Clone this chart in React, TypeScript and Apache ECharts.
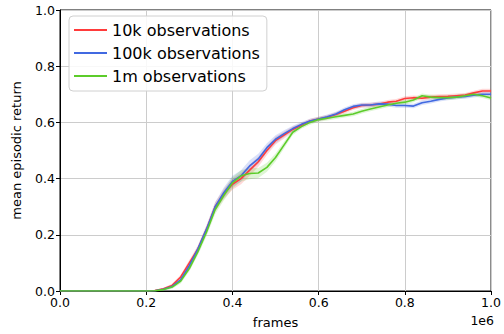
import React, { useEffect, useRef } from "react";
import * as echarts from "echarts";

const FRAMES = [
  0, 20000, 40000, 60000, 80000, 100000, 120000, 140000, 160000, 180000,
  200000, 220000, 240000, 260000, 280000, 300000, 320000, 340000, 360000, 380000,
  400000, 420000, 440000, 460000, 480000, 500000, 520000, 540000, 560000, 580000,
  600000, 620000, 640000, 660000, 680000, 700000, 720000, 740000, 760000, 780000,
  800000, 820000, 840000, 860000, 880000, 900000, 920000, 940000, 960000, 980000,
  1000000,
];

const RED_10K = [
  0, 0, 0, 0, 0, 0, 0, 0, 0, 0,
  0, 0.002, 0.008, 0.02, 0.05, 0.1, 0.15, 0.22, 0.3, 0.345,
  0.38, 0.4, 0.43, 0.46, 0.5, 0.535, 0.555, 0.575, 0.59, 0.605,
  0.612, 0.618, 0.628, 0.64, 0.652, 0.66, 0.662, 0.665, 0.672, 0.675,
  0.685, 0.688, 0.686, 0.69, 0.692, 0.693, 0.695, 0.697, 0.705, 0.712,
  0.712,
];

const BLUE_100K = [
  0, 0, 0, 0, 0, 0, 0, 0, 0, 0,
  0, 0.001, 0.006, 0.016, 0.04, 0.09, 0.15, 0.22, 0.3, 0.35,
  0.39, 0.41, 0.445, 0.47, 0.51, 0.54, 0.56, 0.578, 0.593, 0.605,
  0.612, 0.62, 0.63, 0.645, 0.657, 0.662, 0.662, 0.666, 0.665, 0.66,
  0.66, 0.658, 0.67, 0.675, 0.682, 0.687, 0.69, 0.692, 0.697, 0.7,
  0.7,
];

const GREEN_1M = [
  0, 0, 0, 0, 0, 0, 0, 0, 0, 0,
  0, 0.001, 0.005, 0.014, 0.035, 0.08, 0.14, 0.21, 0.29, 0.34,
  0.385, 0.41, 0.418, 0.42, 0.44, 0.475, 0.52, 0.565, 0.585, 0.6,
  0.61, 0.615, 0.62, 0.625, 0.63, 0.64, 0.648, 0.655, 0.662, 0.668,
  0.672, 0.68, 0.695, 0.69, 0.688, 0.688, 0.69, 0.695, 0.7, 0.695,
  0.687,
];

// half-width of the shaded band around each mean curve
const SPREAD = [
  0, 0, 0, 0, 0, 0, 0, 0, 0, 0,
  0, 0.002, 0.004, 0.006, 0.008, 0.01, 0.012, 0.014, 0.016, 0.018,
  0.02, 0.02, 0.02, 0.018, 0.016, 0.014, 0.012, 0.01, 0.008, 0.008,
  0.008, 0.008, 0.008, 0.008, 0.008, 0.008, 0.008, 0.008, 0.008, 0.008,
  0.008, 0.008, 0.008, 0.008, 0.008, 0.008, 0.008, 0.008, 0.008, 0.008,
  0.008,
];

const SERIES = [
  { name: "10k observations", values: RED_10K, color: "#ff3b3b", band: "rgba(255,59,59,0.2)" },
  { name: "100k observations", values: BLUE_100K, color: "#4169e1", band: "rgba(65,105,225,0.2)" },
  { name: "1m observations", values: GREEN_1M, color: "#5ccc2a", band: "rgba(92,204,42,0.2)" },
];

const X_TICK_LABELS = ["0.0", "0.2", "0.4", "0.6", "0.8", "1.0"];
const Y_TICK_LABELS = ["0.0", "0.2", "0.4", "0.6", "0.8", "1.0"];

const FONT = "DejaVu Sans";

export default function App() {
  const ref = useRef<HTMLDivElement>(null);
  useEffect(() => {
    if (!ref.current) return;
    const chart = echarts.init(ref.current, undefined, { renderer: "svg" });

    const bandSeries = SERIES.map((s) => ({
      type: "custom",
      silent: true,
      z: 1,
      data: [[0, 0]],
      renderItem: (_params: any, api: any) => {
        const upper = FRAMES.map((x, i) => api.coord([x, s.values[i] + SPREAD[i]]));
        const lower = FRAMES.map((x, i) => api.coord([x, s.values[i] - SPREAD[i]])).reverse();
        return {
          type: "polygon",
          shape: { points: upper.concat(lower) },
          style: { fill: s.band, stroke: "none" },
        };
      },
    }));

    const lineSeries = SERIES.map((s) => ({
      type: "line",
      name: s.name,
      z: 3,
      symbol: "none",
      data: FRAMES.map((x, i) => [x, s.values[i]]),
      lineStyle: { color: s.color, width: 1.6 },
      itemStyle: { color: s.color },
    }));

    chart.setOption({
      animation: false,
      textStyle: { fontFamily: FONT },
      grid: {
        left: 60,
        right: 11,
        top: 10,
        bottom: 43,
        show: true,
        borderColor: "#000",
        borderWidth: 1,
      },
      legend: {
        left: 69,
        top: 16,
        orient: "vertical",
        data: SERIES.map((s) => s.name),
        icon: "rect",
        itemWidth: 33,
        itemHeight: 2,
        itemGap: 3,
        itemTextGap: 14,
        padding: [4, 7, 5, 5],
        backgroundColor: "rgba(255,255,255,0.85)",
        borderColor: "#d0d0d0",
        borderWidth: 1,
        borderRadius: 4,
        textStyle: { fontFamily: FONT, fontSize: 16, color: "#000", lineHeight: 20 },
      },
      xAxis: {
        type: "value",
        min: 0,
        max: 1000000,
        interval: 200000,
        name: "frames",
        nameLocation: "middle",
        nameGap: 25,
        nameTextStyle: { fontFamily: FONT, fontSize: 13, color: "#000" },
        axisLine: { show: true, lineStyle: { color: "#000", width: 1 } },
        axisTick: { show: true, length: 4, lineStyle: { color: "#000" } },
        axisLabel: {
          fontFamily: FONT,
          fontSize: 12.5,
          color: "#000",
          margin: 5,
          formatter: (v: number) => X_TICK_LABELS[Math.round(v / 200000)] ?? "",
        },
        splitLine: { show: true, lineStyle: { color: "#cccccc", width: 1 } },
      },
      yAxis: {
        type: "value",
        min: 0,
        max: 1,
        interval: 0.2,
        name: "mean episodic return",
        nameLocation: "middle",
        nameGap: 37,
        nameTextStyle: { fontFamily: FONT, fontSize: 13, color: "#000" },
        axisLine: { show: true, lineStyle: { color: "#000", width: 1 } },
        axisTick: { show: true, length: 4, lineStyle: { color: "#000" } },
        axisLabel: {
          fontFamily: FONT,
          fontSize: 12.5,
          color: "#000",
          margin: 5,
          formatter: (v: number) => Y_TICK_LABELS[Math.round(v / 0.2)] ?? "",
        },
        splitLine: { show: true, lineStyle: { color: "#cccccc", width: 1 } },
      },
      graphic: [
        {
          type: "text",
          right: 10,
          top: 314,
          style: { text: "1e6", font: `12.5px "${FONT}"`, fill: "#000" },
        },
      ],
      series: [...bandSeries, ...lineSeries],
    });
    return () => chart.dispose();
  }, []);
  return <div ref={ref} style={{ width: 504, height: 334, position: "absolute", left: 0, top: 0 }} />;
}
